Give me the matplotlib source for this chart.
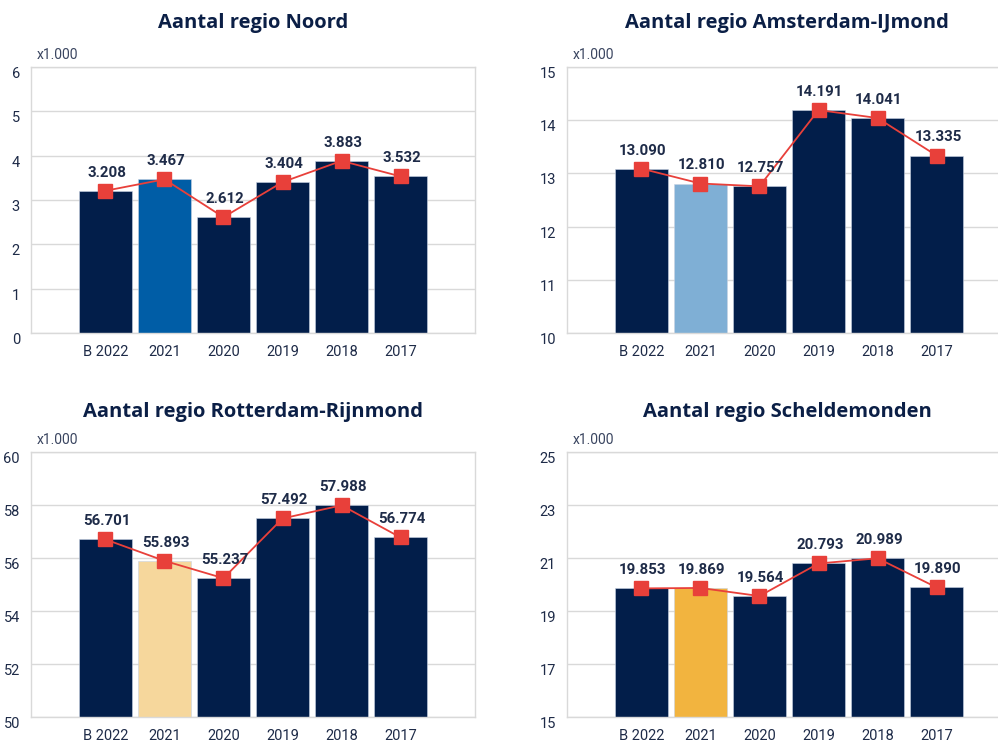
import matplotlib
matplotlib.use("Agg")
import matplotlib.pyplot as plt

categories = ["B 2022", "2021", "2020", "2019", "2018", "2017"]

titles = ["Aantal regio Noord", "Aantal regio Amsterdam-IJmond",
          "Aantal regio Rotterdam-Rijnmond", "Aantal regio Scheldemonden"]

noord = [3.208, 3.467, 2.612, 3.404, 3.883, 3.532]
amsterdam = [13.090, 12.810, 12.757, 14.191, 14.041, 13.335]
rotterdam = [56.701, 55.893, 55.237, 57.492, 57.988, 56.774]
schelde = [19.853, 19.869, 19.564, 20.793, 20.989, 19.890]

noord_ticks = [0, 1, 2, 3, 4, 5, 6]
amsterdam_ticks = [10, 11, 12, 13, 14, 15]
rotterdam_ticks = [50, 52, 54, 56, 58, 60]
schelde_ticks = [15, 17, 19, 21, 23, 25]

highlight_colors = ["#005DA6", "#7FAFD5", "#F6D79C", "#F2B43F"]

NAVY = "#021E4A"
RED = "#E8403A"
GRID = "#D9D9D9"
TEXT = "#1E2B48"

series = [noord, amsterdam, rotterdam, schelde]
ticks = [noord_ticks, amsterdam_ticks, rotterdam_ticks, schelde_ticks]

W, H = 998, 742
fig = plt.figure(figsize=(W / 100, H / 100), dpi=100)
fig.patch.set_facecolor("white")

# axes boxes in pixels: (left, top, width, height)
boxes = [(31, 67, 444, 266), (567, 67, 444, 266),
         (31, 452, 444, 265), (567, 452, 444, 265)]
title_y = [23, 23, 412, 412]
title_x = [253, 787, 253, 787]

def fmt(v):
    return f"{v:.3f}"

for i in range(4):
    l, t, w, h = boxes[i]
    ax = fig.add_axes([l / W, 1 - (t + h) / H, w / W, h / H])
    vals = series[i]
    xs = list(range(len(categories)))
    colors = [NAVY] * len(vals)
    colors[1] = highlight_colors[i]
    ax.bar(xs, vals, width=0.9, color=colors, edgecolor="#C9D3E3",
           linewidth=0.4, zorder=2)
    ax.plot(xs, vals, color=RED, linewidth=1.3, marker="s", markersize=9.5,
            markerfacecolor=RED, markeredgecolor=RED, zorder=3)
    for x, v in zip(xs, vals):
        ax.annotate(fmt(v), (x, v), xytext=(1, 8), textcoords="offset points",
                    ha="center", va="bottom", fontsize=10.8, fontweight="bold",
                    color=TEXT, family="Roboto", zorder=4)
    tk = ticks[i]
    ax.set_ylim(tk[0], tk[-1])
    ax.set_yticks(tk)
    ax.set_yticklabels([str(v) for v in tk], family="Roboto", fontsize=10.5,
                       color=TEXT)
    for lab in ax.get_yticklabels():
        lab.set_va("top")
    ax.set_xlim(-1.26, 6.26)
    ax.set_xticks(xs)
    ax.set_xticklabels(categories, family="Roboto", fontsize=10.5, color=TEXT)
    ax.tick_params(axis="both", length=0)
    ax.tick_params(axis="y", pad=8)
    ax.tick_params(axis="x", pad=9)
    ax.grid(axis="y", color=GRID, linewidth=1.0, zorder=0)
    ax.set_axisbelow(True)
    for s in ax.spines.values():
        s.set_color(GRID)
        s.set_linewidth(1.0)
    ax.text(0.012, 1.018, "x1.000", transform=ax.transAxes, ha="left",
            va="bottom", fontsize=10, color="#3A4560", family="Roboto")
    fig.text(title_x[i] / W, 1 - title_y[i] / H, titles[i], ha="center",
             va="center", fontsize=14.5, fontweight="bold", color="#0B1F46",
             family="Open Sans")

fig.savefig("out.png", dpi=100, facecolor="white")
